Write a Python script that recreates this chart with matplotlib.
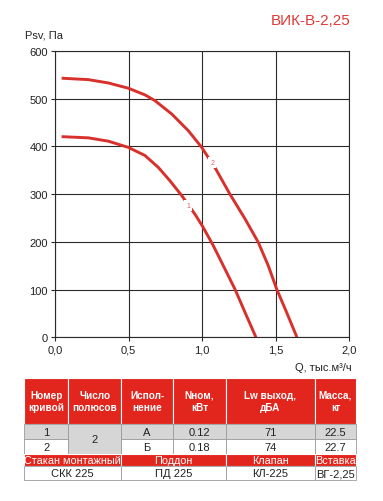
import matplotlib
matplotlib.use("Agg")
import matplotlib.pyplot as plt
from matplotlib.patches import Rectangle

plt.rcParams['font.family'] = ['Liberation Sans', 'DejaVu Sans']

# ---- data ----
title = "ВИК-В-2,25"
y_label = "Psv, Па"
x_label = "Q, тыс.м³/ч"
x_ticks = [0.0, 0.5, 1.0, 1.5, 2.0]
x_tick_labels = ["0,0", "0,5", "1,0", "1,5", "2,0"]
y_ticks = [0, 100, 200, 300, 400, 500, 600]

q1 = [0.045, 0.227, 0.363, 0.499, 0.612, 0.703, 0.782, 0.862, 0.952, 1.005, 1.077, 1.145, 1.224, 1.293, 1.367]
p1 = [420.5, 418, 411, 398, 381, 356, 328, 297, 258, 232, 192, 150, 101, 52, 0]
q2 = [0.045, 0.227, 0.363, 0.499, 0.612, 0.680, 0.794, 0.907, 0.998, 1.095, 1.19, 1.293, 1.383, 1.451, 1.508, 1.576, 1.646]
p2 = [543, 540, 533, 522, 508, 496, 468, 433, 398, 352, 300, 248, 199, 150, 101, 52, 0]
curve_labels = ["1", "2"]
label_pos_q = [0.907, 1.07]
label_pos_p = [276, 366]

header = ["Номер\nкривой", "Число\nполюсов", "Испол-\nнение", "Nном,\nкВт", "Lw выход,\nдБА", "Масса,\nкг"]
row1 = ["1", "", "А", "0.12", "71", "22.5"]
row2 = ["2", "", "Б", "0.18", "74", "22.7"]
poles = "2"
acc_names = ["Стакан монтажный", "Поддон", "Клапан", "Вставка"]
acc_values = ["СКК 225", "ПД 225", "КЛ-225", "ВГ-2,25"]

RED = "#e2251d"
CURVE = "#d8302b"

fig = plt.figure(figsize=(3.83, 5.02), dpi=100)
W, H = 383, 502
ax = fig.add_axes([55 / W, 1 - 338.3 / H, (349 - 55) / W, (338.3 - 52) / H])
ax.set_xlim(0, 2.0)
ax.set_ylim(0, 600)
ax.set_xticks(x_ticks)
ax.set_xticklabels(x_tick_labels)
ax.set_yticks(y_ticks)
ax.grid(True, color="#2a2a2a", linewidth=0.8)
for s in ax.spines.values():
    s.set_color("#2a2a2a")
    s.set_linewidth(0.8)
ax.tick_params(axis="both", labelsize=8, length=3, width=0.8, color="#2a2a2a", pad=2, labelcolor="#222222")

ax.plot(q1, p1, color=CURVE, linewidth=2.1, solid_capstyle="butt", solid_joinstyle="round", zorder=3)
ax.plot(q2, p2, color=CURVE, linewidth=2.1, solid_capstyle="butt", solid_joinstyle="round", zorder=3)
for lab, lq, lp in zip(curve_labels, label_pos_q, label_pos_p):
    ax.text(lq, lp, lab, fontsize=5, color="#e0606a", ha="center", va="center", zorder=4,
            bbox=dict(boxstyle="square,pad=0.3", fc="white", ec="none"))

# overlay for texts and table
ov = fig.add_axes([0, 0, 1, 1])
ov.set_xlim(0, W)
ov.set_ylim(H, 0)
ov.axis("off")
ov.text(311, 21, title, fontsize=11, color="#e03a35", ha="center", va="center")
ov.text(25, 35, y_label, fontsize=8, color="#222222", ha="left", va="center")
ov.text(352, 368, x_label, fontsize=8, color="#222222", ha="right", va="center")

cols = [24, 68.3, 121, 173.3, 226, 315, 356]
rows = [379, 425, 440, 455, 466.7, 481]
GRAY = "#d6d6d6"
LINE = "#9a9a9a"

# header
for i in range(6):
    ov.add_patch(Rectangle((cols[i], rows[0]), cols[i + 1] - cols[i], rows[1] - rows[0],
                           fc=RED, ec="white", lw=0.8))
    ov.text((cols[i] + cols[i + 1]) / 2, (rows[0] + rows[1]) / 2, header[i], color="white",
            fontsize=7.2, fontweight="bold", ha="center", va="center", linespacing=1.3)
# data rows
for r, (vals, fc) in enumerate([(row1, GRAY), (row2, "white")]):
    y0 = rows[1 + r]
    for i in range(6):
        if i == 1:
            continue
        ov.add_patch(Rectangle((cols[i], y0), cols[i + 1] - cols[i], rows[2 + r] - y0,
                               fc=fc, ec=LINE, lw=0.6))
        ov.text((cols[i] + cols[i + 1]) / 2, (y0 + rows[2 + r]) / 2 + 0.5, vals[i],
                color="#222222", fontsize=8, ha="center", va="center")
ov.add_patch(Rectangle((cols[1], rows[1]), cols[2] - cols[1], rows[3] - rows[1],
                       fc=GRAY, ec=LINE, lw=0.6))
ov.text((cols[1] + cols[2]) / 2, (rows[1] + rows[3]) / 2, poles, color="#222222",
        fontsize=8, ha="center", va="center")
# accessories
spans = [(0, 2), (2, 4), (4, 5), (5, 6)]
for (a, b), name, val in zip(spans, acc_names, acc_values):
    ov.add_patch(Rectangle((cols[a], rows[3]), cols[b] - cols[a], rows[4] - rows[3],
                           fc=RED, ec="white", lw=0.8))
    ov.text((cols[a] + cols[b]) / 2, (rows[3] + rows[4]) / 2 + 0.5, name, color="white",
            fontsize=7.8, ha="center", va="center")
    ov.add_patch(Rectangle((cols[a], rows[4]), cols[b] - cols[a], rows[5] - rows[4],
                           fc="white", ec=LINE, lw=0.6))
    ov.text((cols[a] + cols[b]) / 2, (rows[4] + rows[5]) / 2 + 0.5, val, color="#222222",
            fontsize=8, ha="center", va="center")

fig.savefig("out.png", dpi=100)
